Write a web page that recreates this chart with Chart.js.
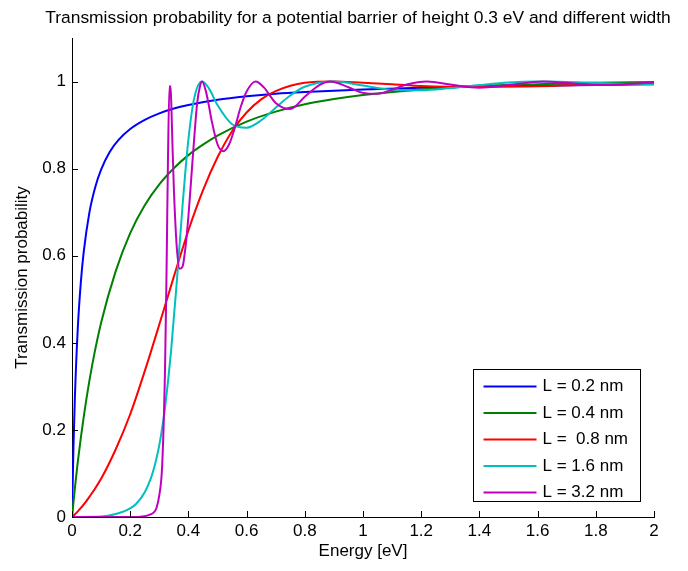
<!DOCTYPE html>
<html>
<head>
<meta charset="utf-8">
<title>Transmission probability</title>
<script src="https://cdn.jsdelivr.net/npm/chart.js@4.4.0/dist/chart.umd.min.js"></script>
<style>
  body { margin: 0; background: #fff; }
  #wrap { width: 688px; height: 571px; }
</style>
</head>
<body>
<div id="wrap"><canvas id="tp-chart" width="688" height="571"></canvas></div>
<script>
// values (energy in eV, transmission 0..1)
const chartTitle = 'Transmission probability for a potential barrier of height 0.3 eV and different width';
const legendLabels = ['L = 0.2 nm', 'L = 0.4 nm', 'L =  0.8 nm', 'L = 1.6 nm', 'L = 3.2 nm'];
const lineColors = ['#0000ff', '#008000', '#ff0000', '#00bfbf', '#bf00bf'];

const energyBlue = [0, 0.005, 0.01, 0.02, 0.03, 0.04, 0.06, 0.08, 0.1, 0.13, 0.16, 0.2, 0.25, 0.3, 0.35, 0.4, 0.5, 0.6, 0.7, 0.8, 1.0, 1.2, 1.5, 1.8, 2.0];
const tBlue = [0, 0.16, 0.277, 0.435, 0.536, 0.607, 0.70, 0.758, 0.798, 0.839, 0.866, 0.891, 0.912, 0.927, 0.938, 0.946, 0.958, 0.966, 0.972, 0.976, 0.982, 0.986, 0.99, 0.992, 0.994];

const energyGreen = [0, 0.01, 0.02, 0.03, 0.05, 0.07, 0.1, 0.15, 0.2, 0.25, 0.3, 0.35, 0.4, 0.45, 0.5, 0.6, 0.7, 0.8, 0.9, 1.0, 1.2, 1.4, 1.6, 1.8, 2.0];
const tGreen = [0, 0.067, 0.127, 0.18, 0.273, 0.351, 0.446, 0.564, 0.652, 0.716, 0.764, 0.801, 0.831, 0.855, 0.876, 0.908, 0.931, 0.948, 0.96, 0.969, 0.982, 0.99, 0.994, 0.997, 0.999];

const energyRed = [0, 0.02, 0.05, 0.1, 0.15, 0.2, 0.25, 0.3, 0.35, 0.4, 0.45, 0.5, 0.55, 0.6, 0.65, 0.7, 0.8, 0.9, 1.0, 1.1, 1.2, 1.4, 1.6, 1.8, 2.0];
const tRed = [0, 0.013, 0.037, 0.088, 0.155, 0.236, 0.335, 0.442, 0.552, 0.658, 0.75, 0.826, 0.886, 0.929, 0.959, 0.978, 0.997, 1.0, 0.997, 0.994, 0.99, 0.988, 0.989, 0.993, 0.996];

const energyCyan = [0, 0.1, 0.15, 0.2, 0.22, 0.25, 0.27, 0.28, 0.29, 0.3, 0.31, 0.32, 0.34, 0.36, 0.38, 0.4, 0.42, 0.447, 0.47, 0.5, 0.55, 0.6, 0.65, 0.7, 0.75, 0.8, 0.9, 1.0, 1.1, 1.2, 1.3, 1.4, 1.5, 1.6, 1.7, 1.8, 1.9, 2.0];
const tCyan = [0, 0.001, 0.007, 0.02, 0.03, 0.057, 0.087, 0.108, 0.134, 0.165, 0.205, 0.253, 0.378, 0.539, 0.716, 0.867, 0.962, 1.0, 0.985, 0.946, 0.902, 0.894, 0.911, 0.94, 0.968, 0.988, 1.0, 0.991, 0.981, 0.98, 0.985, 0.992, 0.998, 1.0, 0.999, 0.997, 0.995, 0.994];

const energyMagenta = [0, 0.2, 0.25, 0.27, 0.28, 0.29, 0.3, 0.31, 0.32, 0.325, 0.33, 0.335, 0.34, 0.345, 0.35, 0.36, 0.37, 0.38, 0.39, 0.4, 0.41, 0.42, 0.43, 0.44, 0.447, 0.46, 0.47, 0.48, 0.5, 0.52, 0.54, 0.56, 0.58, 0.6, 0.631, 0.66, 0.7, 0.75, 0.8, 0.85, 0.888, 0.95, 1.0, 1.05, 1.1, 1.15, 1.22, 1.3, 1.4, 1.5, 1.62, 1.7, 1.8, 1.9, 2.0];
const tMagenta = [0, 0, 0.002, 0.006, 0.01, 0.02, 0.05, 0.12, 0.35, 0.57, 0.83, 0.99, 0.97, 0.86, 0.755, 0.62, 0.57, 0.575, 0.62, 0.69, 0.78, 0.87, 0.95, 0.99, 1.0, 0.978, 0.946, 0.91, 0.856, 0.84, 0.856, 0.895, 0.942, 0.977, 1.0, 0.986, 0.951, 0.937, 0.965, 0.992, 1.0, 0.987, 0.974, 0.972, 0.981, 0.993, 1.0, 0.993, 0.986, 0.992, 1.0, 0.997, 0.992, 0.994, 0.998];

const FONT = 'Liberation Sans, Arial, sans-serif';

document.addEventListener('DOMContentLoaded', function() {
    drawChart();
});

function toPoints(xs, ys) {
    return xs.map((x, i) => ({ x: x, y: ys[i] }));
}

function tickLabel(value) {
    return String(Number(value.toFixed(1)));
}

// matlab style: title over the axes, ticks pointing inward, legend box inside
const matlabAxes = {
    id: 'matlabAxes',
    afterDraw(chart) {
        const ctx = chart.ctx;
        const area = chart.chartArea;
        const xs = chart.scales.x;
        const ys = chart.scales.y;

        ctx.save();
        ctx.fillStyle = '#000';
        ctx.font = '17.4px ' + FONT;
        ctx.textAlign = 'center';
        ctx.textBaseline = 'middle';
        ctx.fillText(chartTitle, (area.left + area.right) / 2 - 5, 18);

        ctx.strokeStyle = '#000';
        ctx.lineWidth = 1;
        ctx.beginPath();
        xs.ticks.forEach(t => {
            const px = Math.round(xs.getPixelForValue(t.value)) + 0.5;
            ctx.moveTo(px, area.bottom);
            ctx.lineTo(px, area.bottom - 6);
        });
        ys.ticks.forEach(t => {
            const py = Math.round(ys.getPixelForValue(t.value)) + 0.5;
            ctx.moveTo(area.left, py);
            ctx.lineTo(area.left + 6, py);
        });
        ctx.stroke();

        // legend
        const boxW = 167, boxH = 132;
        const bx = Math.round(area.right - 14 - boxW) + 0.5;
        const by = Math.round(area.bottom - 16 - boxH) + 0.5;
        ctx.fillStyle = '#fff';
        ctx.fillRect(bx, by, boxW, boxH);
        ctx.strokeStyle = '#000';
        ctx.strokeRect(bx, by, boxW, boxH);

        ctx.font = '17px ' + FONT;
        ctx.textAlign = 'left';
        chart.data.datasets.forEach((ds, i) => {
            const cy = by + 17 + i * 26.5;
            ctx.strokeStyle = ds.borderColor;
            ctx.lineWidth = 2;
            ctx.beginPath();
            ctx.moveTo(bx + 10, cy);
            ctx.lineTo(bx + 63, cy);
            ctx.stroke();
            ctx.fillStyle = '#000';
            ctx.fillText(ds.label, bx + 69, cy);
        });
        ctx.restore();
    }
};

function drawChart() {
    const ctx = document.getElementById('tp-chart').getContext('2d');
    const series = [
        toPoints(energyBlue, tBlue),
        toPoints(energyGreen, tGreen),
        toPoints(energyRed, tRed),
        toPoints(energyCyan, tCyan),
        toPoints(energyMagenta, tMagenta)
    ];

    new Chart(ctx, {
        type: 'scatter',
        data: {
            datasets: series.map((pts, i) => ({
                label: legendLabels[i],
                data: pts,
                showLine: true,
                borderColor: lineColors[i],
                backgroundColor: lineColors[i],
                borderWidth: 2,
                pointRadius: 0,
                cubicInterpolationMode: 'monotone',
                order: series.length - i
            }))
        },
        options: {
            responsive: false,
            animation: false,
            layout: { padding: { left: 0, right: 34, top: 38, bottom: 0 } },
            plugins: {
                legend: { display: false },
                tooltip: { enabled: false },
                title: { display: false }
            },
            scales: {
                x: {
                    type: 'linear',
                    min: 0,
                    max: 2,
                    ticks: { stepSize: 0.2, color: '#000', font: { family: FONT, size: 17 }, padding: 4, maxRotation: 0, callback: tickLabel },
                    grid: { display: true, drawOnChartArea: false, drawTicks: false },
                    border: { display: true, color: '#000', width: 1 },
                    title: { display: true, text: 'Energy [eV]', color: '#000', font: { family: FONT, size: 17 }, padding: { top: 0, bottom: 9.8 } },
                    afterFit: scale => { scale.height = 54; }
                },
                y: {
                    min: 0,
                    max: 1.1,
                    ticks: { stepSize: 0.2, color: '#000', font: { family: FONT, size: 17 }, padding: 6, callback: tickLabel },
                    grid: { display: true, drawOnChartArea: false, drawTicks: false },
                    border: { display: true, color: '#000', width: 1 },
                    title: { display: true, text: 'Transmission probability', color: '#000', font: { family: FONT, size: 17 }, padding: { top: 11.8, bottom: 0 } },
                    afterBuildTicks: scale => { scale.ticks = scale.ticks.filter(t => t.value <= 1.0001); },
                    afterFit: scale => { scale.width = 72; }
                }
            }
        },
        plugins: [matlabAxes]
    });
}
</script>
</body>
</html>
